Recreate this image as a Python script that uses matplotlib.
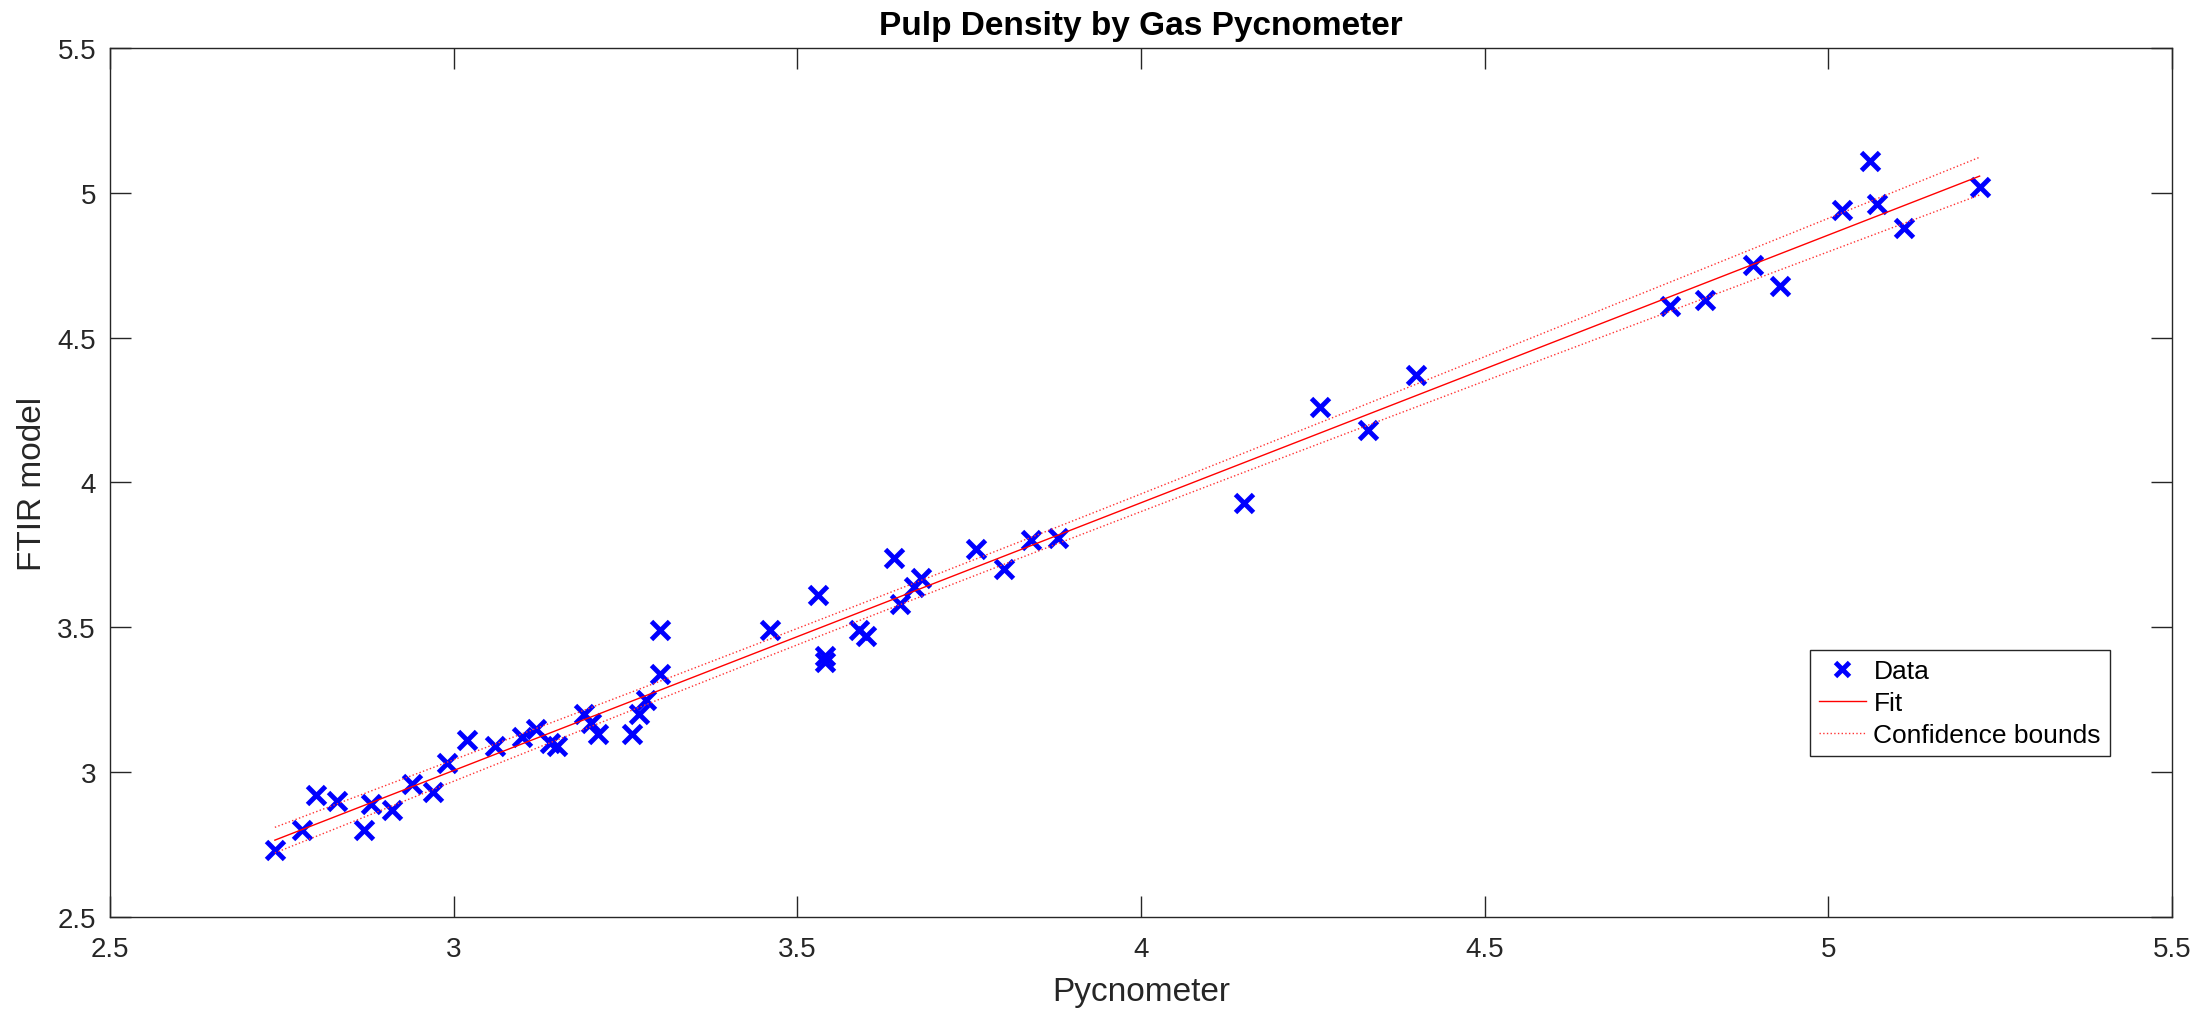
import numpy as np
import matplotlib.pyplot as plt

plt.rcParams['font.family'] = ['Liberation Sans', 'DejaVu Sans']

# pycnometer vs FTIR model density
pyc = [2.74, 2.78, 2.80, 2.83, 2.87, 2.88, 2.91, 2.94, 2.97, 2.99,
       3.02, 3.06, 3.10, 3.12, 3.14, 3.15, 3.19, 3.20, 3.21, 3.26,
       3.27, 3.28, 3.30, 3.30, 3.46, 3.53, 3.54, 3.54, 3.59, 3.60,
       3.64, 3.65, 3.67, 3.68, 3.76, 3.80, 3.84, 3.88, 4.15, 4.26,
       4.33, 4.40, 4.77, 4.82, 4.89, 4.93, 5.02, 5.06, 5.07, 5.11, 5.22]
ftir = [2.73, 2.80, 2.92, 2.90, 2.80, 2.89, 2.87, 2.96, 2.93, 3.03,
        3.11, 3.09, 3.12, 3.15, 3.10, 3.09, 3.20, 3.17, 3.13, 3.13,
        3.20, 3.25, 3.49, 3.34, 3.49, 3.61, 3.40, 3.38, 3.49, 3.47,
        3.74, 3.58, 3.64, 3.67, 3.77, 3.70, 3.80, 3.81, 3.93, 4.26,
        4.18, 4.37, 4.61, 4.63, 4.75, 4.68, 4.94, 5.11, 4.96, 4.88, 5.02]

x = np.array(pyc)
y = np.array(ftir)
n = len(x)

# linear fit and simultaneous confidence bounds of the function
p = np.polyfit(x, y, 1)
xf = np.linspace(x.min(), x.max(), 200)
yf = np.polyval(p, xf)
res = y - np.polyval(p, x)
s = np.sqrt(np.sum(res**2) / (n - 2))
sxx = np.sum((x - x.mean())**2)
crit = np.sqrt(2 * 3.187)  # sqrt(2*F(0.95,2,n-2))
hw = crit * s * np.sqrt(1.0/n + (xf - x.mean())**2 / sxx)

fig = plt.figure(figsize=(22.11, 10.12), dpi=100)
ax = fig.add_axes([0.0497, 0.0929, 0.9327, 0.8587])

ax.plot(x, y, 'x', color='#0000ff', markersize=13, markeredgewidth=3.5, label='Data')
ax.plot(xf, yf, '-', color='#ff0000', lw=1.0, label='Fit')
ax.plot(xf, yf + hw, ':', color='#ff3333', lw=1.0, label='Confidence bounds')
ax.plot(xf, yf - hw, ':', color='#ff3333', lw=1.0)

ax.set_xlim(2.5, 5.5)
ax.set_ylim(2.5, 5.5)
ticks = [2.5, 3, 3.5, 4, 4.5, 5, 5.5]
ax.set_xticks(ticks)
ax.set_yticks(ticks)
ax.set_xticklabels(['2.5', '3', '3.5', '4', '4.5', '5', '5.5'])
ax.set_yticklabels(['2.5', '3', '3.5', '4', '4.5', '5', '5.5'])

ax.tick_params(direction='in', length=15, width=1.0, colors='#262626',
               labelsize=20, top=True, right=True)
ax.tick_params(axis='x', pad=14)
ax.tick_params(axis='y', pad=10)
for sp in ax.spines.values():
    sp.set_color('#262626')
    sp.set_linewidth(1.0)

ax.set_xlabel('Pycnometer', fontsize=24, color='#262626', labelpad=10)
ax.set_ylabel('FTIR model', fontsize=24, color='#262626', labelpad=7)
ax.set_title('Pulp Density by Gas Pycnometer', fontsize=24, fontweight='bold', pad=10)

leg = ax.legend(loc='lower right', bbox_to_anchor=(0.970, 0.185), fontsize=19,
                fancybox=False, framealpha=1, edgecolor='#262626',
                borderaxespad=0, borderpad=0.35, labelspacing=0.3,
                handlelength=1.75, handletextpad=0.3, markerscale=0.8)
leg.get_frame().set_linewidth(1.0)

fig.savefig('out.png', dpi=100)
